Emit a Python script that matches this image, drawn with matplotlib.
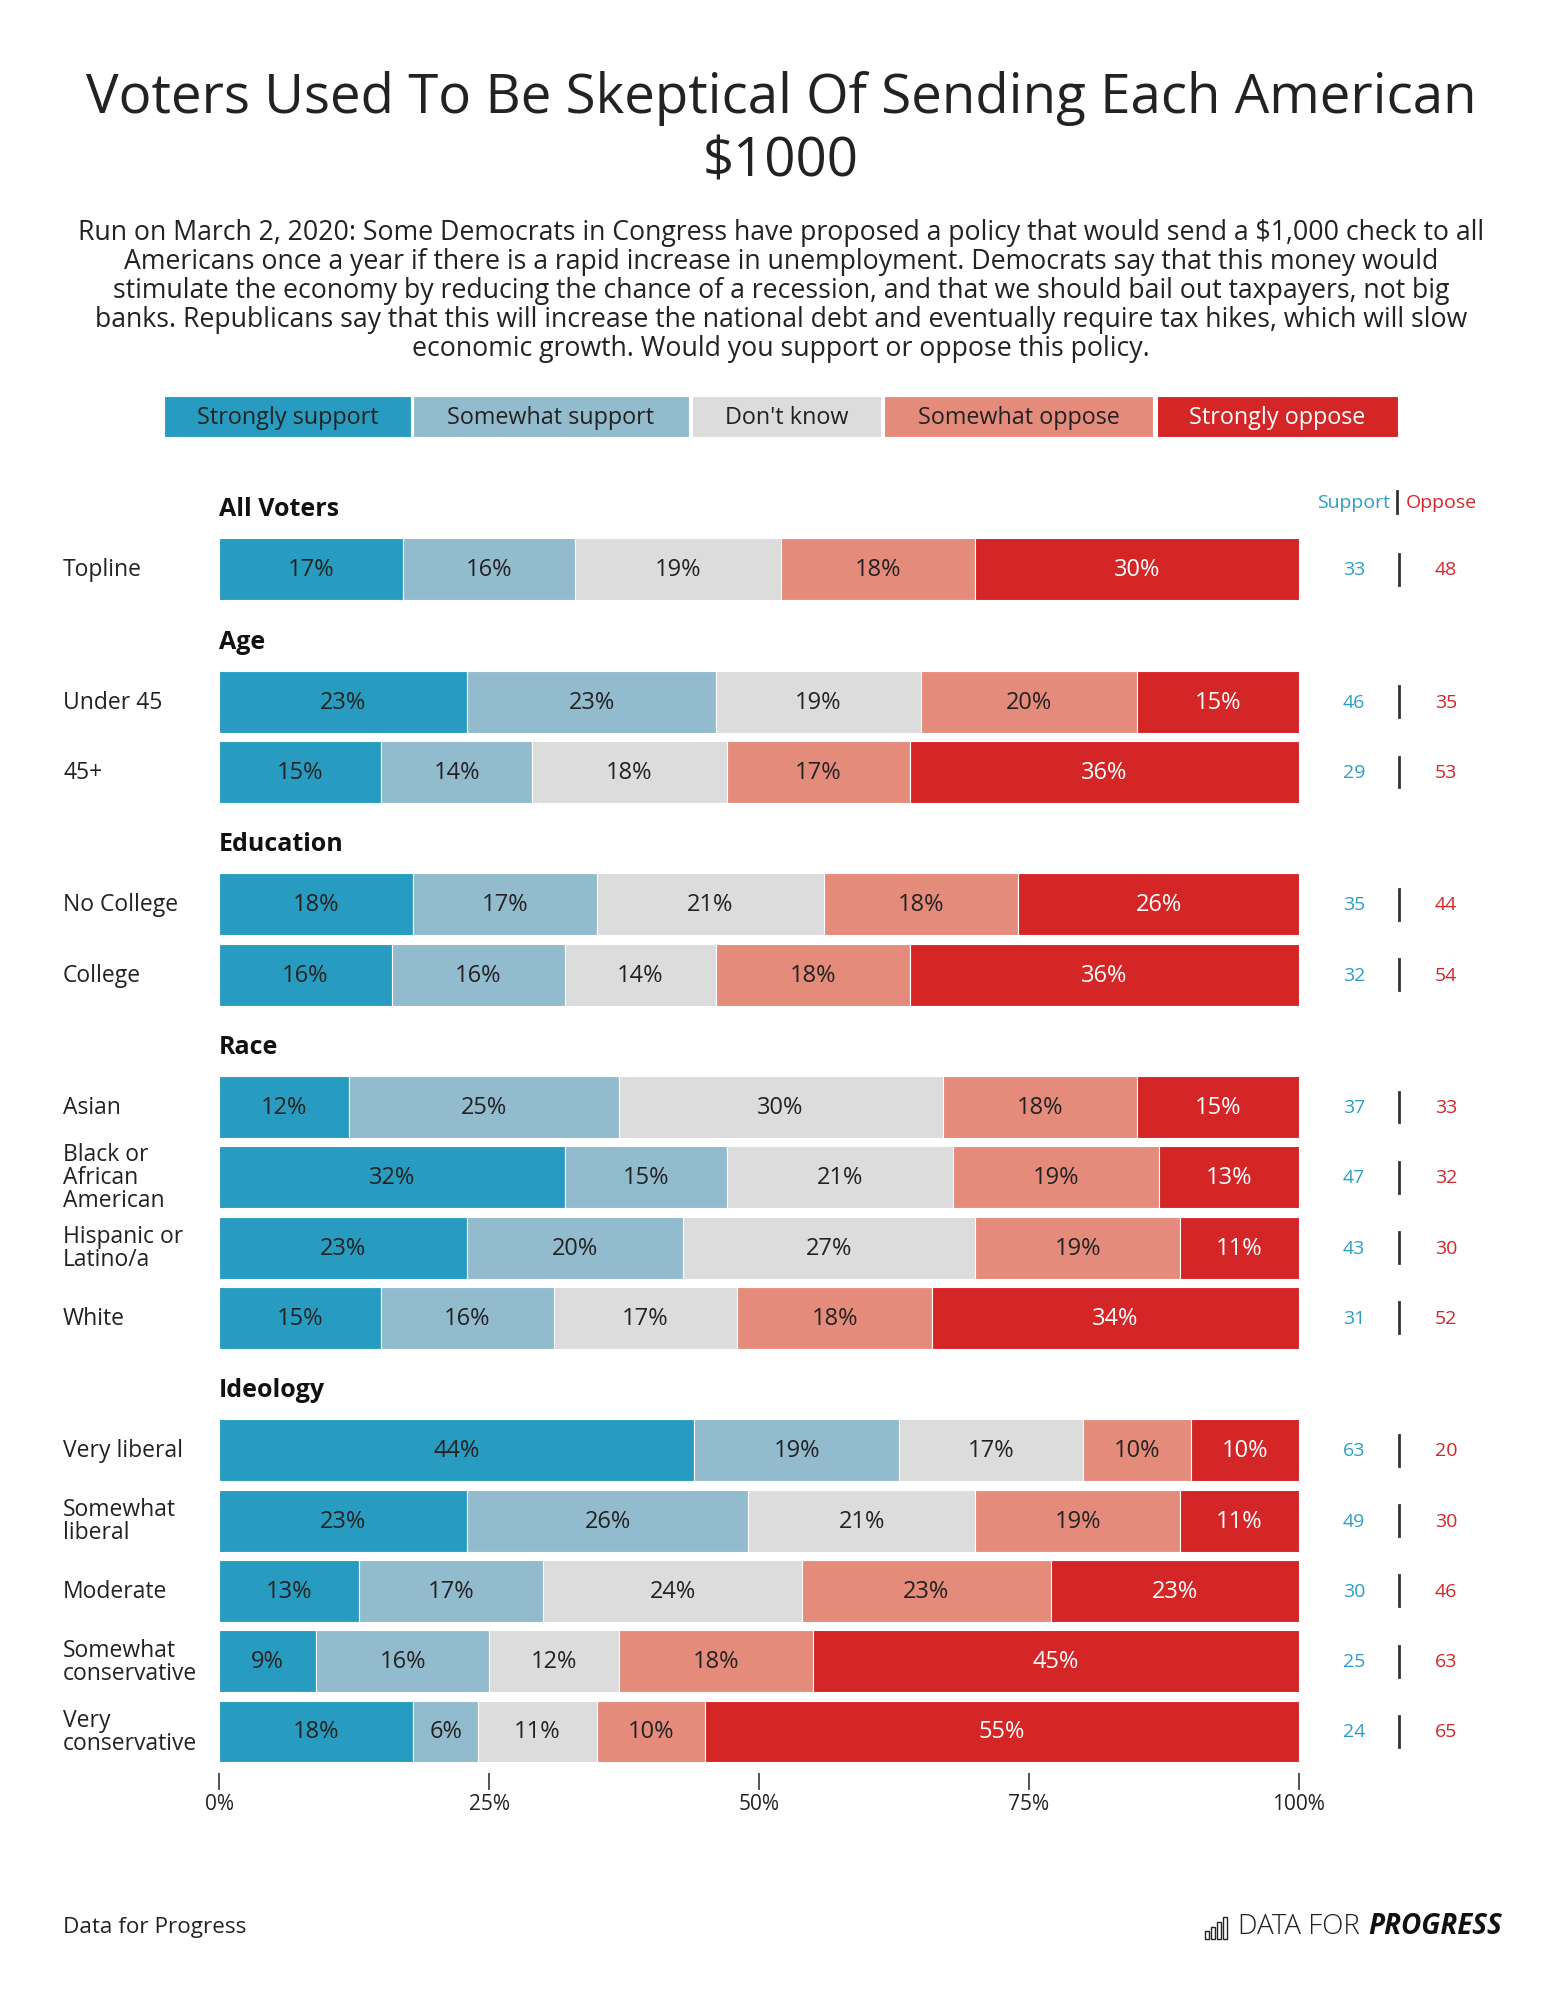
import matplotlib.pyplot as plt
import matplotlib.transforms as mtransforms
from matplotlib.patches import Rectangle
from matplotlib.lines import Line2D

plt.rcParams['font.family'] = ['Open Sans', 'DejaVu Sans']

# --- data ---
categories = ['Strongly support', 'Somewhat support', "Don't know", 'Somewhat oppose', 'Strongly oppose']
colors = ['#279cc0', '#93bbce', '#dcdcdc', '#e58b7c', '#d42527']

groups = ['All Voters', 'Age', 'Education', 'Race', 'Ideology']
group_rows = [
    ['Topline'],
    ['Under 45', '45+'],
    ['No College', 'College'],
    ['Asian', 'Black or\nAfrican\nAmerican', 'Hispanic or\nLatino/a', 'White'],
    ['Very liberal', 'Somewhat\nliberal', 'Moderate', 'Somewhat\nconservative', 'Very\nconservative'],
]
strongly_support = [17, 23, 15, 18, 16, 12, 32, 23, 15, 44, 23, 13, 9, 18]
somewhat_support = [16, 23, 14, 17, 16, 25, 15, 20, 16, 19, 26, 17, 16, 6]
dont_know = [19, 19, 18, 21, 14, 30, 21, 27, 17, 17, 21, 24, 12, 11]
somewhat_oppose = [18, 20, 17, 18, 18, 18, 19, 19, 18, 10, 19, 23, 18, 10]
strongly_oppose = [30, 15, 36, 26, 36, 15, 13, 11, 34, 10, 11, 23, 45, 55]
support_total = [33, 46, 29, 35, 32, 37, 47, 43, 31, 63, 49, 30, 25, 24]
oppose_total = [48, 35, 53, 44, 54, 33, 32, 30, 52, 20, 30, 46, 63, 65]
x_ticks = [0, 25, 50, 75, 100]

title = 'Voters Used To Be Skeptical Of Sending Each American\n$1000'
subtitle_lines = [
    'Run on March 2, 2020: Some Democrats in Congress have proposed a policy that would send a $1,000 check to all',
    'Americans once a year if there is a rapid increase in unemployment. Democrats say that this money would',
    'stimulate the economy by reducing the chance of a recession, and that we should bail out taxpayers, not big',
    'banks. Republicans say that this will increase the national debt and eventually require tax hikes, which will slow',
    'economic growth. Would you support or oppose this policy.',
]

# --- layout helpers (pixel positions on a 1560x1999 canvas) ---
W, H = 1560, 1999
def fx(x):
    return x / W
def fy(y):
    return 1 - y / H

blue_txt = '#2a9fc6'
red_txt = '#d42527'
dark = '#222222'

fig = plt.figure(figsize=(15.6, 19.99), dpi=100)
fig.patch.set_facecolor('white')

# Title and question text
fig.text(fx(781), fy(130), title, ha='center', va='center', fontsize=39.3,
         color=dark, linespacing=1.2)
for k, line in enumerate(subtitle_lines):
    fig.text(fx(781), fy(233 + 29 * k), line, ha='center', va='center',
             fontsize=19.2, color=dark)

# Legend strip
legend_boxes = [(164, 411), (413, 689), (692, 881), (884, 1153), (1157, 1398)]
for (x0, x1), cat, col in zip(legend_boxes, categories, colors):
    fig.patches.append(Rectangle((fx(x0), fy(438)), fx(x1) - fx(x0), (438 - 397) / H,
                                 transform=fig.transFigure, facecolor=col,
                                 edgecolor='white', lw=0.8))
    fig.text(fx((x0 + x1) / 2), fy(418), cat, ha='center', va='center', fontsize=16.8,
             color='white' if cat == 'Strongly oppose' else dark)

# Row positions (in row units), groups separated by an extra gap
gap = 0.883
row_labels, positions, header_pos = [], [], []
i = 0
for g, rows in enumerate(group_rows):
    header_pos.append(i + g * gap - 0.86)
    for r in rows:
        row_labels.append(r)
        positions.append(i + g * gap)
        i += 1

y0_px, unit_px = 570.3, 70.3
top_px, bot_px = 450, 1773.5
ax = fig.add_axes([fx(219), fy(bot_px), fx(1299) - fx(219), (bot_px - top_px) / H])
ax.set_xlim(0, 100)
ax.set_ylim((bot_px - y0_px) / unit_px, (top_px - y0_px) / unit_px)

series = [strongly_support, somewhat_support, dont_know, somewhat_oppose, strongly_oppose]
left = [0] * len(positions)
for cat, col, vals in zip(categories, colors, series):
    ax.barh(positions, vals, left=left, height=0.88, color=col,
            edgecolor='white', linewidth=0.8)
    for p, l, v in zip(positions, left, vals):
        ax.text(l + v / 2, p, f'{v}%', ha='center', va='center', fontsize=17,
                color='white' if cat == 'Strongly oppose' else dark)
    left = [a + b for a, b in zip(left, vals)]

# group headers
for g, hp in zip(groups, header_pos):
    ax.text(0, hp, g, ha='left', va='center', fontsize=18, fontweight='bold', color='#111111')

# row labels + support/oppose totals
blend = mtransforms.blended_transform_factory(fig.transFigure, ax.transData)
for lab, p, s, o in zip(row_labels, positions, support_total, oppose_total):
    ax.text(fx(63), p, lab, transform=blend, ha='left', va='center', fontsize=16.5,
            color=dark, linespacing=0.95)
    ax.text(fx(1354), p, str(s), transform=blend, ha='center', va='center',
            fontsize=14, color=blue_txt)
    ax.text(fx(1446), p, str(o), transform=blend, ha='center', va='center',
            fontsize=14, color=red_txt)
    ax.add_line(Line2D([fx(1399), fx(1399)], [p - 0.22, p + 0.22], transform=blend,
                       color='#333333', lw=2, clip_on=False))

# column header
fig.text(fx(1390), fy(503), 'Support', ha='right', va='center', fontsize=14, color=blue_txt)
fig.text(fx(1406), fy(503), 'Oppose', ha='left', va='center', fontsize=14, color=red_txt)
fig.add_artist(Line2D([fx(1397), fx(1397)], [fy(492), fy(514)], transform=fig.transFigure,
                      color='#333333', lw=2))

# x axis
ax.set_xticks(x_ticks)
ax.set_xticklabels([f'{t}%' for t in x_ticks])
ax.tick_params(axis='x', length=12, width=1.3, color='#444444', labelsize=15,
               labelcolor=dark, pad=3)
ax.tick_params(axis='y', left=False, labelleft=False)
for sp in ax.spines.values():
    sp.set_visible(False)

# footer
fig.text(fx(63), fy(1928), 'Data for Progress', ha='left', va='center', fontsize=16.2, color=dark)
prog = fig.text(fx(1502), fy(1927), 'PROGRESS', ha='right', va='center', fontsize=20,
                fontweight='bold', fontstyle='italic', color='#111111')
fig.canvas.draw()
prog_left = prog.get_window_extent().x0
dfor = fig.text((prog_left - 8) / W, fy(1927), 'DATA FOR', ha='right', va='center', fontsize=20,
                fontweight='light', color=dark)
fig.canvas.draw()
icon_right = dfor.get_window_extent().x0 - 10
# little bar-chart logo
for k, bh in enumerate([8, 12, 17, 22]):
    bx = icon_right - 24 + k * 6
    fig.patches.append(Rectangle((fx(bx), fy(1940)), 4 / W, bh / H, transform=fig.transFigure,
                                 facecolor='none', edgecolor='#222222', lw=1))

fig.savefig('out.png', dpi=100, facecolor='white')
